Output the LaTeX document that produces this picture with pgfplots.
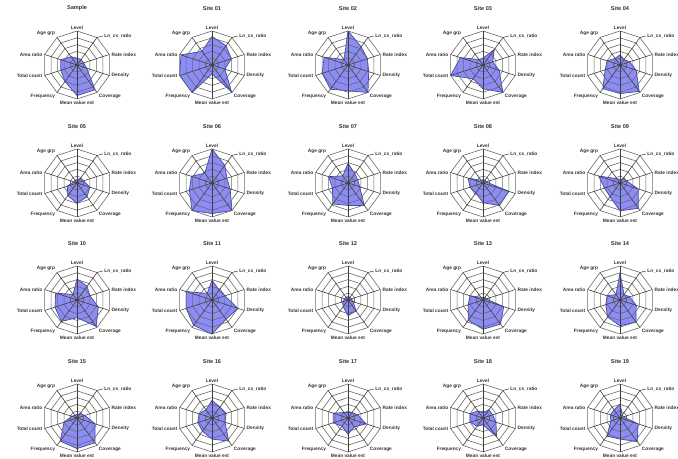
\documentclass[border=0pt]{standalone}
\usepackage{fontspec}
\setmainfont{Liberation Sans}
\usepackage{pgfplots}
\pgfplotsset{compat=1.18}
\usepackage{pgfplotstable}
\usepgfplotslibrary{polar}

\definecolor{radarfill}{RGB}{140,140,248}
\definecolor{radarline}{RGB}{70,70,175}
\definecolor{ringcol}{RGB}{105,105,95}
\definecolor{txtcol}{RGB}{50,50,50}

% radar values (0-5), one column per chart, rows = axes clockwise from top
\pgfplotstableread{
ang c1 c2 c3 c4 c5 c6 c7 c8 c9 c10 c11 c12 c13 c14 c15 c16 c17 c18 c19 c20
90  1   4.2 5   1   1.5 0.5 5   2.9 0.5 0.5 3.1 2.9 0.5 0.3 4   0.5 2.6 0.8 0.8 2
54  1   3.5 3.3 2.8 1   0.8 3.2 1.7 0.5 0.8 2.5 1.8 0.5 0.5 1   0.8 2   1   1.5 0.6
18  1   3   3   1.5 1.5 1   2.3 1.5 0.5 1   2   2   0.5 0.5 1.5 1.2 2.2 1.5 1.5 0.5
342 1.5 2   3.2 2.5 2.5 2   2.8 1.8 4   2.8 3.3 4   0.8 3.2 2.5 2.8 2   2.8 2   2.8
306 4.5 4.9 5   5   4.8 2.5 5   4.1 4.1 4.6 4.8 3.5 2   4.4 4   4.5 4.2 1.6 3.4 4.3
270 4.5 1.3 3.8 3.5 4.2 3   4.5 3.3 2.9 4.1 2.6 5   2.3 4.3 3.8 4.5 3.1 2.4 1   3.1
234 3   5   4.4 2.5 4.3 2.3 5   3.8 1.8 2.5 3.9 4.6 1.2 3.7 3.1 4.2 2.4 1.5 1.5 3.3
198 2.5 5   4   5   2.3 1.5 3.5 2.4 2   2.4 3.4 4   0.8 2.3 2.2 2   2.2 2.3 2   1.4
162 2.5 4.8 3.7 3.5 2   0.5 3.2 3   2.3 3.3 3.3 4   0.5 2   2   0.8 2   2.3 2   1.5
126 1.5 2.5 1   1   1.2 0.5 1.8 1.3 0.5 0.8 1   1.2 0.5 0.5 1   0.5 1.5 1   1.3 1.5
90  1   4.2 5   1   1.5 0.5 5   2.9 0.5 0.5 3.1 2.9 0.5 0.3 4   0.5 2.6 0.8 0.8 2
}\radardata

\newcommand\lbl{\fontsize{2.4}{3}\selectfont\bfseries\color{txtcol}}
\newcommand\ttl{\fontsize{2.8}{3.4}\selectfont\bfseries\color{txtcol}}

\newcommand\radar[4]{%
\begin{polaraxis}[at={(#1,#2)}, anchor=center, scale only axis,
  width=34pt, height=34pt, ymin=0, ymax=5, hide axis, clip=false]
  \addplot[no marks, fill=radarfill, draw=radarline, line width=0.35pt]
     table[x=ang, y=#3]{\radardata};
  \pgfplotsinvokeforeach{1,...,5}{%
    \addplot[no marks, ringcol, line width=0.3pt] table[x=ang, y expr=##1]{\radardata};}
  \pgfplotsinvokeforeach{90,54,18,342,306,270,234,198,162,126}{%
    \addplot[no marks, ringcol!60!black, line width=0.3pt] coordinates {(##1,0) (##1,5)};}
  \node[font=\ttl, anchor=south] at (axis cs:90,7.0) {#4};
  \node[font=\lbl, anchor=south, inner sep=0.6pt] at (axis cs:90,5) {Level};
  \draw[line width=0.25pt, txtcol] (axis cs:54,5) -- ++(3pt,0.8pt) node[font=\lbl, anchor=west, inner sep=0.6pt] {Ln\_cs\_ratio};
  \node[font=\lbl, anchor=west, inner sep=1pt] at (axis cs:18,5) {Rate index};
  \node[font=\lbl, anchor=west, inner sep=1pt] at (axis cs:342,5) {Density};
  \node[font=\lbl, anchor=north west, inner sep=0.8pt] at (axis cs:306,5) {Coverage};
  \node[font=\lbl, anchor=north, inner sep=1pt] at (axis cs:270,5) {Mean value est};
  \node[font=\lbl, anchor=north east, inner sep=0.8pt] at (axis cs:234,5) {Frequency};
  \node[font=\lbl, anchor=east, inner sep=1pt] at (axis cs:198,5) {Total count};
  \node[font=\lbl, anchor=east, inner sep=1pt] at (axis cs:162,5) {Area ratio};
  \node[font=\lbl, anchor=south east, inner sep=0.8pt] at (axis cs:126,5) {Age grp};
\end{polaraxis}}

\begin{document}
\begin{tikzpicture}
\useasboundingbox (0,0) rectangle (339pt,229.5pt);
% row 1
\radar{38.5pt}{197pt}{c1}{Sample}
\radar{106pt}{197pt}{c2}{Site 01}
\radar{174pt}{197pt}{c3}{Site 02}
\radar{241.5pt}{197pt}{c4}{Site 03}
\radar{310pt}{197pt}{c5}{Site 04}
% row 2
\radar{38.5pt}{138pt}{c6}{Site 05}
\radar{106pt}{138pt}{c7}{Site 06}
\radar{174pt}{138pt}{c8}{Site 07}
\radar{241.5pt}{138pt}{c9}{Site 08}
\radar{310pt}{138pt}{c10}{Site 09}
% row 3
\radar{38.5pt}{79.5pt}{c11}{Site 10}
\radar{106pt}{79.5pt}{c12}{Site 11}
\radar{174pt}{79.5pt}{c13}{Site 12}
\radar{241.5pt}{79.5pt}{c14}{Site 13}
\radar{310pt}{79.5pt}{c15}{Site 14}
% row 4
\radar{38.5pt}{20.5pt}{c16}{Site 15}
\radar{106pt}{20.5pt}{c17}{Site 16}
\radar{174pt}{20.5pt}{c18}{Site 17}
\radar{241.5pt}{20.5pt}{c19}{Site 18}
\radar{310pt}{20.5pt}{c20}{Site 19}
\end{tikzpicture}
\end{document}
